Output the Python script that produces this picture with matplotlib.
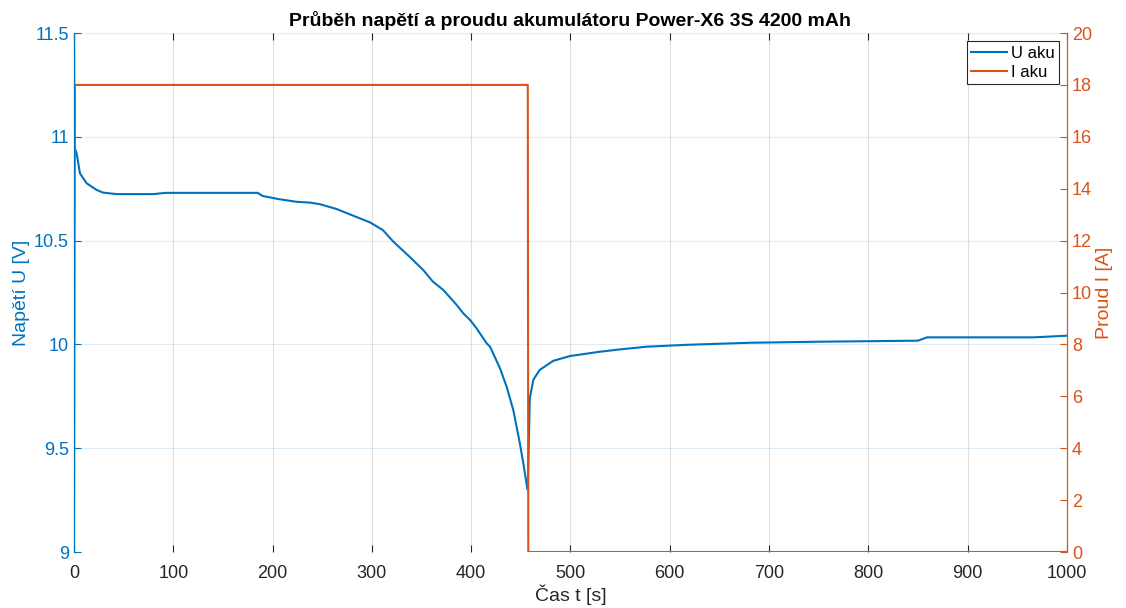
import matplotlib
matplotlib.use("Agg")
import matplotlib.pyplot as plt

plt.rcParams["font.family"] = ["Liberation Sans", "DejaVu Sans"]

# napeti akumulatoru
t_u = [0, 0.5, 2.7, 6, 12.8, 22.8, 29.5, 43, 80, 92, 185, 190, 206, 224, 238, 248,
       264.5, 298, 311, 321.6, 338, 351.8, 361.5, 372, 385.4, 392, 398.8, 405.5,
       415.6, 419, 429, 435.7, 442.4, 449, 452.5, 456.5, 457,
       459, 462.6, 469, 482.7, 499.5, 530, 550, 576.7, 617, 681, 751, 850, 859,
       966, 1000]
u_aku = [11.55, 10.95, 10.92, 10.824, 10.776, 10.744, 10.731, 10.724, 10.724, 10.73,
         10.73, 10.715, 10.70, 10.687, 10.683, 10.675, 10.652, 10.588, 10.551,
         10.495, 10.422, 10.358, 10.302, 10.262, 10.19, 10.150, 10.118, 10.077,
         10.005, 9.989, 9.885, 9.796, 9.684, 9.524, 9.427, 9.307, 9.30,
         9.74, 9.83, 9.877, 9.921, 9.944, 9.965, 9.976, 9.989, 9.998, 10.008,
         10.013, 10.018, 10.034, 10.034, 10.042]

# proud
t_i = [0, 1, 457, 457.5, 1000]
i_aku = [0, 18, 18, 0, 0]

x_ticks = list(range(0, 1001, 100))
u_ticks = [9, 9.5, 10, 10.5, 11, 11.5]
i_ticks = list(range(0, 21, 2))

blue = "#0072BD"
orange = "#D95319"
dark = "#262626"

fig = plt.figure(figsize=(11.26, 6.08), dpi=100)
ax1 = fig.add_axes([0.0657, 0.0921, 0.8819, 0.8536])
ax2 = ax1.twinx()

l1, = ax1.plot(t_u, u_aku, color=blue, lw=1.5, label="U aku", zorder=3)
l2, = ax2.plot(t_i, i_aku, color=orange, lw=1.5, label="I aku")

ax1.set_xlim(0, 1000)
ax1.set_ylim(9, 11.5)
ax2.set_ylim(0, 20)
ax1.set_xticks(x_ticks)
ax1.set_yticks(u_ticks)
ax1.set_yticklabels(["9", "9.5", "10", "10.5", "11", "11.5"])
ax2.set_yticks(i_ticks)

ax1.grid(axis="x", color="#000000", alpha=0.12, lw=0.8)
ax1.grid(axis="y", color=blue, alpha=0.12, lw=0.8)

ax1.tick_params(axis="x", direction="in", colors=dark, labelsize=13, length=5,
                top=True, pad=9)
ax1.tick_params(axis="y", direction="in", colors=blue, labelsize=13, length=5)
ax2.tick_params(axis="y", direction="in", colors=orange, labelsize=13, length=5)

for ax in (ax1, ax2):
    ax.spines["top"].set_visible(False)
    ax.spines["bottom"].set_visible(False)
    ax.spines["left"].set_color(blue)
    ax.spines["right"].set_color(orange)

ax1.set_xlabel("Čas t [s]", fontsize=14, color=dark, labelpad=2)
ax1.set_ylabel("Napětí U [V]", fontsize=14, color=blue, labelpad=3)
ax2.set_ylabel("Proud I [A]", fontsize=14, color=orange, labelpad=3)
ax1.set_title("Průběh napětí a proudu akumulátoru Power-X6 3S 4200 mAh",
              fontsize=14, fontweight="bold", color="#000000", pad=5)

leg = ax2.legend(handles=[l1, l2], loc="upper right", fontsize=12,
                 fancybox=False, framealpha=1, edgecolor=dark,
                 handlelength=2.2, borderpad=0.25, labelspacing=0.25,
                 handletextpad=0.2, borderaxespad=0.5)
leg.get_frame().set_linewidth(0.8)

fig.savefig("out.png", dpi=100)
